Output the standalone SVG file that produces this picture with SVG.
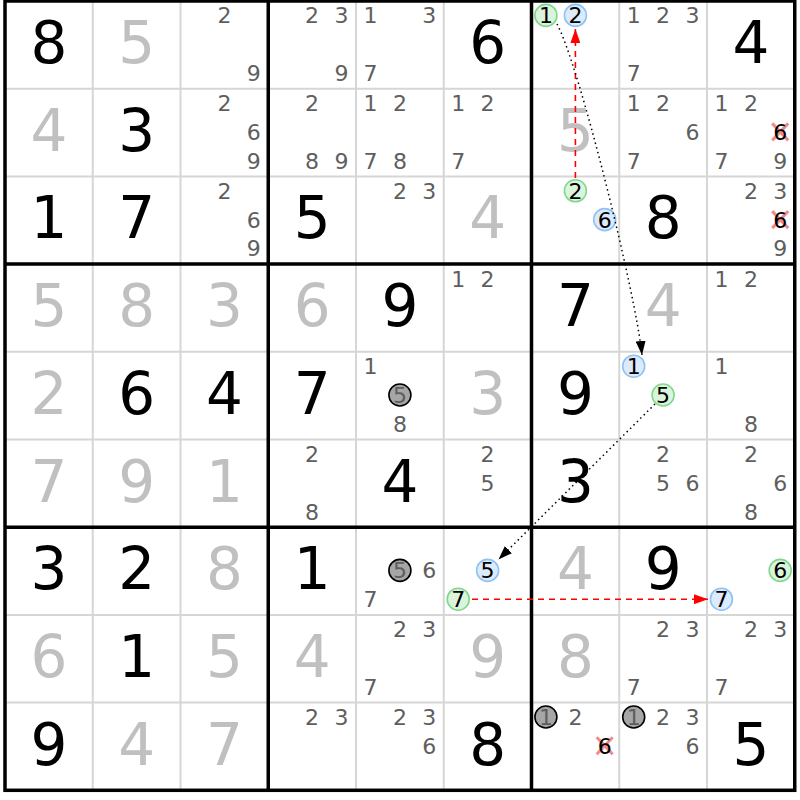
<svg xmlns="http://www.w3.org/2000/svg" width="800" height="800" viewBox="0 0 800 800">
<style>
text{font-family:"DejaVu Sans","Liberation Sans",sans-serif;text-anchor:middle}
.g{font-size:58px;fill:#000}
.s{font-size:58px;fill:#c0c0c0}
.c{font-size:22px;fill:#5e5e5e}
.k{font-size:22px;fill:#000}
.cg{fill:#dbf5dc;stroke:#80d88e;stroke-width:1.6}
.cb{fill:#dcebfb;stroke:#8fc3f3;stroke-width:1.6}
.cx{fill:#a6a6a6;stroke:#000;stroke-width:1.6}
.x{stroke:#f28a8a;stroke-width:3}
.thin{stroke:#d6d6d6;stroke-width:2}
.thick{stroke:#000;stroke-width:3.5;fill:none}
.red{stroke:#ff0000;stroke-width:1.6;stroke-dasharray:6 5;fill:none}
.dot{stroke:#000;stroke-width:1.5;stroke-dasharray:1.5 3.3;fill:none}
</style>
<defs>
<marker id="ar" viewBox="0 0 14 10" refX="14" refY="5" markerWidth="14" markerHeight="10" markerUnits="userSpaceOnUse" orient="auto"><path d="M0,0 L14,5 L0,10 Z" fill="#ff0000"/></marker>
<marker id="ab" viewBox="0 0 14 10" refX="14" refY="5" markerWidth="14" markerHeight="10" markerUnits="userSpaceOnUse" orient="auto"><path d="M0,0 L14,5 L0,10 Z" fill="#000"/></marker>
</defs>
<rect width="800" height="800" fill="#fff"/>
<g id="grid">
<path class="thin" d="M92.75,1V790.3M180.5,1V790.3M356,1V790.3M443.75,1V790.3M619.25,1V790.3M707,1V790.3M5,88.7H794.75M5,176.4H794.75M5,351.8H794.75M5,439.5H794.75M5,614.9H794.75M5,702.6H794.75"/>
<path class="thick" d="M268.25,1V790.3M531.5,1V790.3M5,264.1H794.75M5,527.2H794.75"/>
<rect class="thick" x="5" y="1" width="789.75" height="789.3"/>
</g>
<g id="r0c0"><text class="g" x="48.9" y="63">8</text></g>
<g id="r0c1"><text class="s" x="136.6" y="63">5</text></g>
<g id="r0c2"><text class="c" x="224.4" y="23.3">2</text><text class="c" x="253.7" y="81">9</text></g>
<g id="r0c3"><text class="c" x="312.1" y="23.3">2</text><text class="c" x="341.5" y="23.3">3</text><text class="c" x="341.5" y="81">9</text></g>
<g id="r0c4"><text class="c" x="370.4" y="23.3">1</text><text class="c" x="429.2" y="23.3">3</text><text class="c" x="370.4" y="81">7</text></g>
<g id="r0c5"><text class="g" x="487.6" y="63">6</text></g>
<g id="r0c6"><circle class="cg" cx="545.9" cy="15.4" r="11"/><text class="k" x="545.9" y="23.3">1</text><circle class="cb" cx="575.4" cy="15.4" r="11"/><text class="k" x="575.4" y="23.3">2</text></g>
<g id="r0c7"><text class="c" x="633.7" y="23.3">1</text><text class="c" x="663.1" y="23.3">2</text><text class="c" x="692.5" y="23.3">3</text><text class="c" x="633.7" y="81">7</text></g>
<g id="r0c8"><text class="g" x="750.9" y="63">4</text></g>
<g id="r1c0"><text class="s" x="48.9" y="150.7">4</text></g>
<g id="r1c1"><text class="g" x="136.6" y="150.7">3</text></g>
<g id="r1c2"><text class="c" x="224.4" y="111.1">2</text><text class="c" x="253.7" y="139.9">6</text><text class="c" x="253.7" y="168.7">9</text></g>
<g id="r1c3"><text class="c" x="312.1" y="111.1">2</text><text class="c" x="312.1" y="168.7">8</text><text class="c" x="341.5" y="168.7">9</text></g>
<g id="r1c4"><text class="c" x="370.4" y="111.1">1</text><text class="c" x="399.9" y="111.1">2</text><text class="c" x="370.4" y="168.7">7</text><text class="c" x="399.9" y="168.7">8</text></g>
<g id="r1c5"><text class="c" x="458.2" y="111.1">1</text><text class="c" x="487.6" y="111.1">2</text><text class="c" x="458.2" y="168.7">7</text></g>
<g id="r1c6"><text class="s" x="575.4" y="150.7">5</text></g>
<g id="r1c7"><text class="c" x="633.7" y="111.1">1</text><text class="c" x="663.1" y="111.1">2</text><text class="c" x="692.5" y="139.9">6</text><text class="c" x="633.7" y="168.7">7</text></g>
<g id="r1c8"><text class="c" x="721.4" y="111.1">1</text><text class="c" x="750.9" y="111.1">2</text><path class="x" d="M772.2,123.4L788.2,140.4M788.2,123.4L772.2,140.4"/><text class="k" x="780.2" y="139.9">6</text><text class="c" x="721.4" y="168.7">7</text><text class="c" x="780.2" y="168.7">9</text></g>
<g id="r2c0"><text class="g" x="48.9" y="238.4">1</text></g>
<g id="r2c1"><text class="g" x="136.6" y="238.4">7</text></g>
<g id="r2c2"><text class="c" x="224.4" y="198.8">2</text><text class="c" x="253.7" y="227.6">6</text><text class="c" x="253.7" y="256.4">9</text></g>
<g id="r2c3"><text class="g" x="312.1" y="238.4">5</text></g>
<g id="r2c4"><text class="c" x="399.9" y="198.8">2</text><text class="c" x="429.2" y="198.8">3</text></g>
<g id="r2c5"><text class="s" x="487.6" y="238.4">4</text></g>
<g id="r2c6"><circle class="cg" cx="575.4" cy="190.8" r="11"/><text class="k" x="575.4" y="198.8">2</text><circle class="cb" cx="604.7" cy="219.6" r="11"/><text class="k" x="604.7" y="227.6">6</text></g>
<g id="r2c7"><text class="g" x="663.1" y="238.4">8</text></g>
<g id="r2c8"><text class="c" x="750.9" y="198.8">2</text><text class="c" x="780.2" y="198.8">3</text><path class="x" d="M772.2,211.1L788.2,228.1M788.2,211.1L772.2,228.1"/><text class="k" x="780.2" y="227.6">6</text><text class="c" x="780.2" y="256.4">9</text></g>
<g id="r3c0"><text class="s" x="48.9" y="326.1">5</text></g>
<g id="r3c1"><text class="s" x="136.6" y="326.1">8</text></g>
<g id="r3c2"><text class="s" x="224.4" y="326.1">3</text></g>
<g id="r3c3"><text class="s" x="312.1" y="326.1">6</text></g>
<g id="r3c4"><text class="g" x="399.9" y="326.1">9</text></g>
<g id="r3c5"><text class="c" x="458.2" y="286.5">1</text><text class="c" x="487.6" y="286.5">2</text></g>
<g id="r3c6"><text class="g" x="575.4" y="326.1">7</text></g>
<g id="r3c7"><text class="s" x="663.1" y="326.1">4</text></g>
<g id="r3c8"><text class="c" x="721.4" y="286.5">1</text><text class="c" x="750.9" y="286.5">2</text></g>
<g id="r4c0"><text class="s" x="48.9" y="413.8">2</text></g>
<g id="r4c1"><text class="g" x="136.6" y="413.8">6</text></g>
<g id="r4c2"><text class="g" x="224.4" y="413.8">4</text></g>
<g id="r4c3"><text class="g" x="312.1" y="413.8">7</text></g>
<g id="r4c4"><text class="c" x="370.4" y="374.2">1</text><circle class="cx" cx="399.9" cy="395" r="11"/><text class="c" x="399.9" y="403">5</text><text class="c" x="399.9" y="431.8">8</text></g>
<g id="r4c5"><text class="s" x="487.6" y="413.8">3</text></g>
<g id="r4c6"><text class="g" x="575.4" y="413.8">9</text></g>
<g id="r4c7"><circle class="cb" cx="633.7" cy="366.2" r="11"/><text class="k" x="633.7" y="374.2">1</text><circle class="cg" cx="663.1" cy="395" r="11"/><text class="k" x="663.1" y="403">5</text></g>
<g id="r4c8"><text class="c" x="721.4" y="374.2">1</text><text class="c" x="750.9" y="431.8">8</text></g>
<g id="r5c0"><text class="s" x="48.9" y="501.5">7</text></g>
<g id="r5c1"><text class="s" x="136.6" y="501.5">9</text></g>
<g id="r5c2"><text class="s" x="224.4" y="501.5">1</text></g>
<g id="r5c3"><text class="c" x="312.1" y="461.9">2</text><text class="c" x="312.1" y="519.5">8</text></g>
<g id="r5c4"><text class="g" x="399.9" y="501.5">4</text></g>
<g id="r5c5"><text class="c" x="487.6" y="461.9">2</text><text class="c" x="487.6" y="490.7">5</text></g>
<g id="r5c6"><text class="g" x="575.4" y="501.5">3</text></g>
<g id="r5c7"><text class="c" x="663.1" y="461.9">2</text><text class="c" x="663.1" y="490.7">5</text><text class="c" x="692.5" y="490.7">6</text></g>
<g id="r5c8"><text class="c" x="750.9" y="461.9">2</text><text class="c" x="780.2" y="490.7">6</text><text class="c" x="750.9" y="519.5">8</text></g>
<g id="r6c0"><text class="g" x="48.9" y="589.2">3</text></g>
<g id="r6c1"><text class="g" x="136.6" y="589.2">2</text></g>
<g id="r6c2"><text class="s" x="224.4" y="589.2">8</text></g>
<g id="r6c3"><text class="g" x="312.1" y="589.2">1</text></g>
<g id="r6c4"><circle class="cx" cx="399.9" cy="570.4" r="11"/><text class="c" x="399.9" y="578.4">5</text><text class="c" x="429.2" y="578.4">6</text><text class="c" x="370.4" y="607.2">7</text></g>
<g id="r6c5"><circle class="cb" cx="487.6" cy="570.4" r="11"/><text class="k" x="487.6" y="578.4">5</text><circle class="cg" cx="458.2" cy="599.2" r="11"/><text class="k" x="458.2" y="607.2">7</text></g>
<g id="r6c6"><text class="s" x="575.4" y="589.2">4</text></g>
<g id="r6c7"><text class="g" x="663.1" y="589.2">9</text></g>
<g id="r6c8"><circle class="cg" cx="780.2" cy="570.4" r="11"/><text class="k" x="780.2" y="578.4">6</text><circle class="cb" cx="721.4" cy="599.2" r="11"/><text class="k" x="721.4" y="607.2">7</text></g>
<g id="r7c0"><text class="s" x="48.9" y="676.9">6</text></g>
<g id="r7c1"><text class="g" x="136.6" y="676.9">1</text></g>
<g id="r7c2"><text class="s" x="224.4" y="676.9">5</text></g>
<g id="r7c3"><text class="s" x="312.1" y="676.9">4</text></g>
<g id="r7c4"><text class="c" x="399.9" y="637.3">2</text><text class="c" x="429.2" y="637.3">3</text><text class="c" x="370.4" y="694.9">7</text></g>
<g id="r7c5"><text class="s" x="487.6" y="676.9">9</text></g>
<g id="r7c6"><text class="s" x="575.4" y="676.9">8</text></g>
<g id="r7c7"><text class="c" x="663.1" y="637.3">2</text><text class="c" x="692.5" y="637.3">3</text><text class="c" x="633.7" y="694.9">7</text></g>
<g id="r7c8"><text class="c" x="750.9" y="637.3">2</text><text class="c" x="780.2" y="637.3">3</text><text class="c" x="721.4" y="694.9">7</text></g>
<g id="r8c0"><text class="g" x="48.9" y="764.6">9</text></g>
<g id="r8c1"><text class="s" x="136.6" y="764.6">4</text></g>
<g id="r8c2"><text class="s" x="224.4" y="764.6">7</text></g>
<g id="r8c3"><text class="c" x="312.1" y="725">2</text><text class="c" x="341.5" y="725">3</text></g>
<g id="r8c4"><text class="c" x="399.9" y="725">2</text><text class="c" x="429.2" y="725">3</text><text class="c" x="429.2" y="753.8">6</text></g>
<g id="r8c5"><text class="g" x="487.6" y="764.6">8</text></g>
<g id="r8c6"><circle class="cx" cx="545.9" cy="717" r="11"/><text class="c" x="545.9" y="725">1</text><text class="c" x="575.4" y="725">2</text><path class="x" d="M596.7,737.3L612.7,754.3M612.7,737.3L596.7,754.3"/><text class="k" x="604.7" y="753.8">6</text></g>
<g id="r8c7"><circle class="cx" cx="633.7" cy="717" r="11"/><text class="c" x="633.7" y="725">1</text><text class="c" x="663.1" y="725">2</text><text class="c" x="692.5" y="725">3</text><text class="c" x="692.5" y="753.8">6</text></g>
<g id="r8c8"><text class="g" x="750.9" y="764.6">5</text></g>
<g id="links">
<path class="red" d="M575.4,178V29" marker-end="url(#ar)"/>
<path class="red" d="M472,599.2H708" marker-end="url(#ar)"/>
<path class="dot" d="M557,24C579,64 636,295 642,355" marker-end="url(#ab)"/>
<path class="dot" d="M655,404L498.5,559.5" marker-end="url(#ab)"/>
</g>
</svg>
